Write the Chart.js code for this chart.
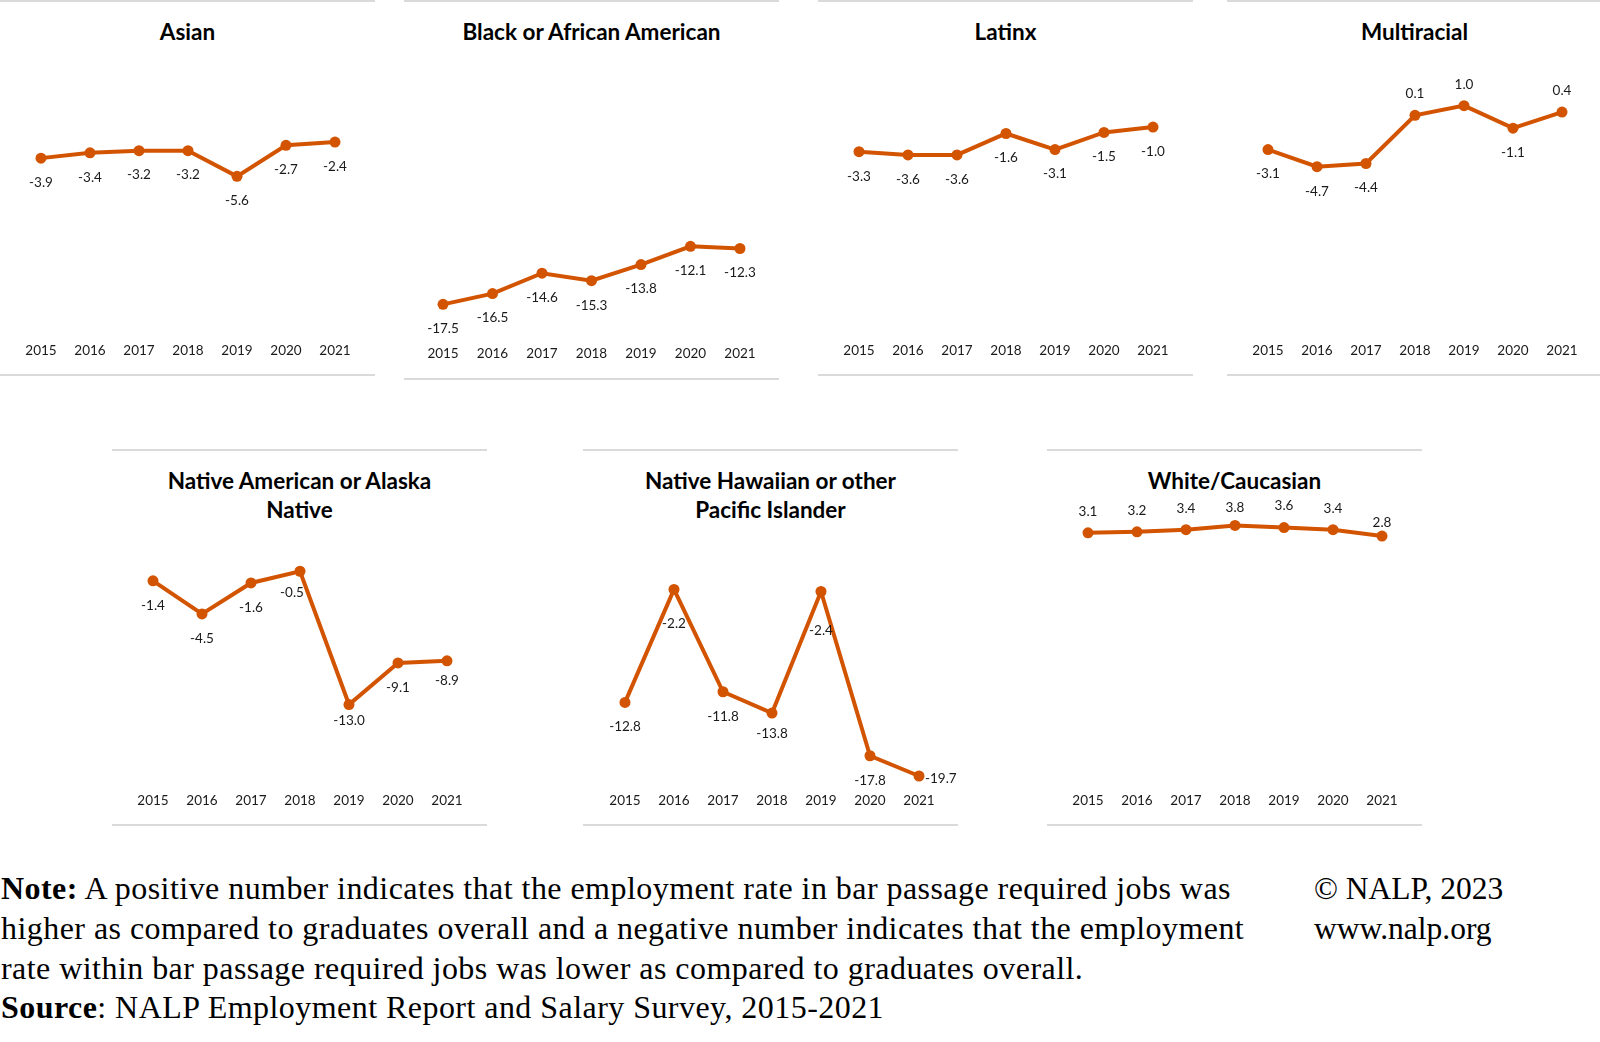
<!DOCTYPE html>
<html><head><meta charset="utf-8">
<script src="https://cdn.jsdelivr.net/npm/chart.js@4.4.1/dist/chart.umd.min.js"></script>
<style>
html,body{margin:0;padding:0;background:#fff;}
body{width:1600px;height:1042px;position:relative;overflow:hidden;font-family:Lato,sans-serif;}
.panel{position:absolute;border-top:2px solid #dadada;border-bottom:2px solid #dadada;box-sizing:border-box;}
.title{position:absolute;text-align:center;font-weight:bold;font-size:22.5px;color:#000;line-height:29px;white-space:nowrap;}
canvas{position:absolute;}
.note{position:absolute;left:1px;top:869px;font-family:"Liberation Serif",serif;font-size:32px;letter-spacing:0.45px;line-height:39.8px;color:#000;white-space:nowrap;}
.copy{position:absolute;left:1314px;top:869px;font-family:"Liberation Serif",serif;font-size:31.5px;line-height:39.8px;color:#000;white-space:nowrap;}
</style></head><body>
<div id="root"></div>
<div class="note"><b>Note:</b> A positive number indicates that the employment rate in bar passage required jobs was<br>higher as compared to graduates overall and a negative number indicates that the employment<br>rate within bar passage required jobs was lower as compared to graduates overall.<br><b>Source</b>: NALP Employment Report and Salary Survey, 2015-2021</div>
<div class="copy">© NALP, 2023<br>www.nalp.org</div>
<script>
const years = ['2015','2016','2017','2018','2019','2020','2021'];
const asian = [-3.9,-3.4,-3.2,-3.2,-5.6,-2.7,-2.4];
const black = [-17.5,-16.5,-14.6,-15.3,-13.8,-12.1,-12.3];
const latinx = [-3.3,-3.6,-3.6,-1.6,-3.1,-1.5,-1.0];
const multiracial = [-3.1,-4.7,-4.4,0.1,1.0,-1.1,0.4];
const nativeAmerican = [-1.4,-4.5,-1.6,-0.5,-13.0,-9.1,-8.9];
const nativeHawaiian = [-12.8,-2.2,-11.8,-13.8,-2.4,-17.8,-19.7];
const white = [3.1,3.2,3.4,3.8,3.6,3.4,2.8];
const groupTitles = ['Asian','Black or African American','Latinx','Multiracial','Native American or Alaska<br>Native','Native Hawaiian or other<br>Pacific Islander','White/Caucasian'];
const yMin = -20, yMax = 5;

const COLOR = '#d35400';

// layout (positions / sizes)
const TOP = {panelY:0, panelH:376, titleTop:17, canvasTop:50, canvasH:319.6, padTop:12.8, tickPad:11.6};
const BLK = {panelY:0, panelH:380, titleTop:17, canvasTop:50, canvasH:326.4, padTop:12.7, tickPad:14.3};
const BOT = {panelY:449, panelH:377, titleTop:466, canvasTop:500, canvasH:321.6, padTop:12.6, tickPad:13.3};

const panels = [
  {data:asian, x:0, row:TOP, padL:16.5, padR:15.5},
  {data:black, x:404, row:BLK, padL:14.3, padR:14.3},
  {data:latinx, x:818, row:TOP, padL:16.5, padR:15.5},
  {data:multiracial, x:1227, row:TOP, padL:16.5, padR:15.5},
  {data:nativeAmerican, x:112, row:BOT, padL:16.5, padR:15.5, adjust:{3:{dx:-8,dy:21.5},4:{dy:16.5},6:{dy:19.5}}},
  {data:nativeHawaiian, x:583, row:BOT, padL:17.5, padR:14.5, adjust:{1:{dy:34},3:{dy:20.5},4:{dy:39},6:{dx:6,dy:3,align:'left'}}},
  {data:white, x:1047, row:BOT, padL:16.5, padR:15.5, adjust:{3:{dy:-17.5},6:{dy:-13}}}
];
const PW = 375;

const labelPlugin = {
  id:'pointLabels',
  afterDatasetsDraw(chart, args, opts){
    const ctx = chart.ctx;
    const meta = chart.getDatasetMeta(0);
    const vals = chart.data.datasets[0].data;
    const adjust = opts.adjust || {};
    ctx.save();
    ctx.font = '13.5px Lato';
    ctx.fillStyle = '#1a1a1a';
    ctx.textBaseline = 'middle';
    meta.data.forEach((pt,i)=>{
      const v = vals[i];
      const a = adjust[i] || {};
      const dy = (a.dy !== undefined) ? a.dy : (v >= 0 ? -21.5 : 24.5);
      const dx = a.dx || 0;
      ctx.textAlign = a.align || 'center';
      ctx.fillText(v.toFixed(1), pt.x + dx, pt.y + dy);
    });
    ctx.restore();
  }
};

const root = document.getElementById('root');
panels.forEach((p,idx)=>{
  const r = p.row;
  const pd = document.createElement('div');
  pd.className = 'panel';
  pd.style.left = p.x + 'px'; pd.style.top = r.panelY + 'px';
  pd.style.width = PW + 'px'; pd.style.height = r.panelH + 'px';
  root.appendChild(pd);
  const t = document.createElement('div');
  t.className = 'title';
  t.style.left = p.x + 'px'; t.style.width = PW + 'px'; t.style.top = r.titleTop + 'px';
  t.innerHTML = groupTitles[idx];
  root.appendChild(t);
  const c = document.createElement('canvas');
  c.width = PW; c.height = Math.round(r.canvasH);
  c.style.left = p.x + 'px'; c.style.top = r.canvasTop + 'px';
  c.style.width = PW + 'px'; c.style.height = Math.round(r.canvasH) + 'px';
  root.appendChild(c);
  new Chart(c, {
    type:'line',
    data:{labels:years, datasets:[{data:p.data, borderColor:COLOR, backgroundColor:COLOR,
      borderWidth:4, pointRadius:5.5, pointHoverRadius:5.5, pointBackgroundColor:COLOR,
      pointBorderWidth:0, tension:0, clip:false}]},
    options:{
      responsive:false, animation:false, devicePixelRatio:1,
      layout:{padding:{top:r.padTop, left:p.padL, right:p.padR, bottom:0}},
      plugins:{legend:{display:false}, tooltip:{enabled:false}, pointLabels:{adjust:p.adjust||{}}},
      scales:{
        x:{offset:true, grid:{display:false, drawTicks:false}, border:{display:false},
           ticks:{font:{family:'Lato', size:13.5}, color:'#1a1a1a', padding:r.tickPad, maxRotation:0, autoSkip:false}},
        y:{display:false, min:yMin, max:yMax}
      }
    },
    plugins:[labelPlugin]
  });
});
</script>
</body></html>
